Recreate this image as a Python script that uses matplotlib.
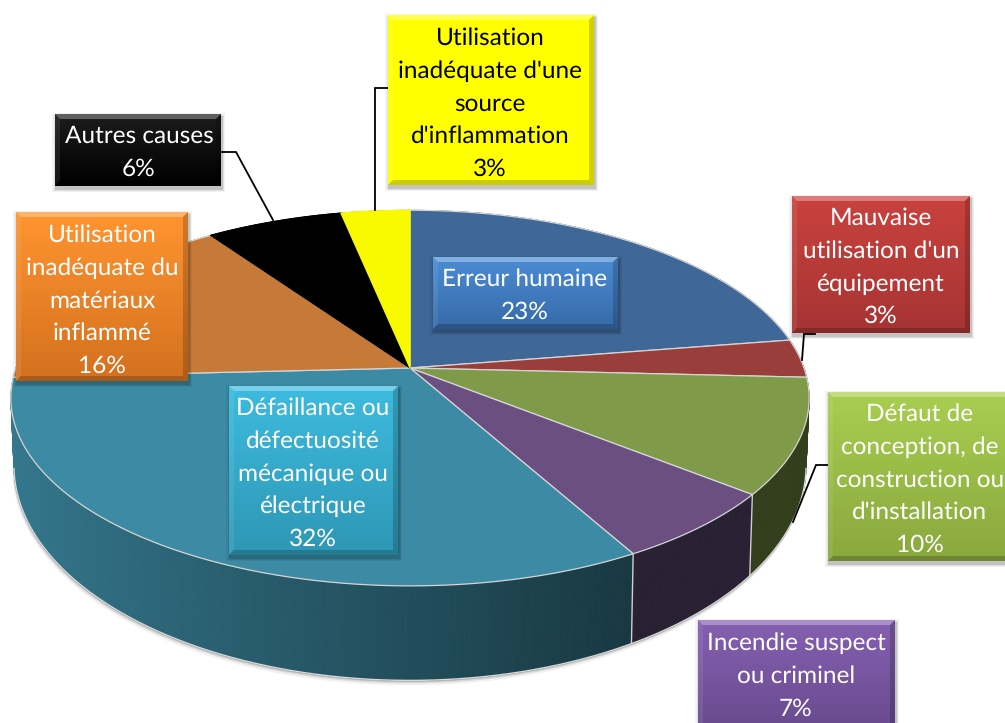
import numpy as np
import matplotlib
matplotlib.use("Agg")
from matplotlib import pyplot as plt
from matplotlib.colors import to_rgb
from matplotlib.patches import Polygon, Rectangle

plt.rcParams['font.family'] = ['Lato', 'DejaVu Sans']
plt.rcParams['text.hinting'] = 'no_hinting'

# labels as printed on the chart
percents = [23, 3, 10, 7, 32, 16, 6, 3]
label_lines = [
    ["Erreur humaine"],
    ["Mauvaise", "utilisation d'un", "équipement"],
    ["Défaut de", "conception, de", "construction ou", "d'installation"],
    ["Incendie suspect", "ou criminel"],
    ["Défaillance ou", "défectuosité", "mécanique ou", "électrique"],
    ["Utilisation", "inadéquate du", "matériaux", "inflammé"],
    ["Autres causes"],
    ["Utilisation", "inadéquate d'une", "source", "d'inflammation"],
]
# slice sizes measured on the picture (the printed labels are rounded)
shares = [22.5, 3.3, 9.9, 6.2, 32.3, 16.1, 6.45, 3.25]

top_colors = ["#3F6797", "#9A3E3C", "#7F9A48", "#6A4F80", "#3C8AA3", "#C77A38", "#000000", "#F9F900"]
# box: left, top, right, bottom, centre x, first baseline, gradient top, gradient bottom, text colour
boxes = [
    (433, 257, 618, 329, 525, 286, "#4A8CD4", "#376AA8", "white"),
    (792, 196, 970, 333, 881, 225, "#C9423E", "#A63433", "white"),
    (828, 392, 1010, 561, 920, 421, "#A8CE50", "#89A83E", "white"),
    (698, 620, 895, 730, 796, 650, "#8560B0", "#694A8F", "white"),
    (229, 386, 398, 555, 313, 415, "#3DBBDF", "#2E97B5", "white"),
    (16, 212, 188, 381, 102, 242, "#FF9430", "#D4711F", "white"),
    (55, 114, 221, 186, 139, 143, "#1C1C1C", "#000000", "white"),
    (388, 15, 594, 185, 490, 45, "#FFFF00", "#FFFF00", "black"),
]
leaders = [
    ([815, 804, 802], [334, 334, 360]),
    ([828, 816, 793], [465, 465, 522]),
    ([222, 236, 273], [152, 152, 220]),
    ([388, 375, 375], [88, 88, 210]),
]
LINE_PITCH = 32.7


def project(theta, cy, a, b, p=0.16):
    """Perspective view of a point on the pie rim, theta clockwise from the back"""
    x, y = np.sin(theta), -np.cos(theta)
    s = 1.0 / (1.0 - p * y)
    return 410 + a * x * s, cy + b * y * s


def top_rim(theta):
    return project(theta, 368, 394, 183)


def bottom_rim(theta):
    return project(theta, 431, 391, 209.5)


def shade(color, factor):
    return tuple(np.clip(np.array(to_rgb(color)) * factor, 0, 1))


def mix(c1, c2, t):
    return tuple(np.array(to_rgb(c1)) * (1 - t) + np.array(to_rgb(c2)) * t)


def draw_box(ax, left, top, right, bottom, c_top, c_bottom):
    # Soft drop shadow
    for grow, alpha in [(4, 0.05), (2.5, 0.08), (1.5, 0.12)]:
        ax.add_patch(Rectangle((left - grow + 1, top - grow + 3), right - left + 2 * grow - 1,
                               bottom - top + 2 * grow - 1, color="black", alpha=alpha, lw=0, zorder=7))
    grad = np.linspace(0, 1, 64)[:, None, None] * (np.array(to_rgb(c_bottom)) - np.array(to_rgb(c_top)))
    ax.imshow(grad + np.array(to_rgb(c_top)), extent=(left, right, bottom, top), aspect="auto", zorder=8)
    # Bevel: lit top and left, dark right and bottom
    bevel = 5
    inner = (left + bevel, top + bevel, right - bevel, bottom - bevel)
    ax.add_patch(Polygon([(left, top), (right, top), (inner[2], inner[1]), (inner[0], inner[1])],
                         color=mix(c_top, "white", 0.3), lw=0, zorder=9))
    ax.add_patch(Polygon([(left, top), (left, bottom), (inner[0], inner[3]), (inner[0], inner[1])],
                         color="white", alpha=0.08, lw=0, zorder=9))
    ax.add_patch(Polygon([(right, top), (right, bottom), (inner[2], inner[3]), (inner[2], inner[1])],
                         color="black", alpha=0.18, lw=0, zorder=9))
    ax.add_patch(Polygon([(left, bottom), (right, bottom), (inner[2], inner[3]), (inner[0], inner[3])],
                         color=shade(c_bottom, 0.8), lw=0, zorder=9))


fig = plt.figure(figsize=(10.05, 7.23), dpi=100)
ax = fig.add_axes([0, 0, 1, 1])

edges = 2 * np.pi * np.cumsum([0] + shares) / sum(shares)

# Shadow under the pie
full = np.linspace(0, 2 * np.pi, 361)
bx, by = bottom_rim(full)
for off, alpha in [(5, 0.05), (3, 0.10), (1.5, 0.18)]:
    ax.add_patch(Polygon(np.column_stack([bx - off * 0.3, by + off]), color="black", alpha=alpha, lw=0, zorder=1))

# Side wall, painted back to front
quads = []
for i, color in enumerate(top_colors):
    thetas = np.linspace(edges[i], edges[i + 1], max(int(shares[i] * 6), 4))
    for t0, t1 in zip(thetas[:-1], thetas[1:]):
        quads.append((t0, t1, color))
quads.sort(key=lambda q: -np.cos((q[0] + q[1]) / 2))
for t0, t1, color in quads:
    factor = np.clip(0.56 - 0.32 * np.sin((t0 + t1) / 2), 0.4, 0.9)
    x0, y0 = top_rim(t0)
    x1, y1 = top_rim(t1)
    x2, y2 = bottom_rim(t1)
    x3, y3 = bottom_rim(t0)
    ax.add_patch(Polygon([(x0, y0), (x1, y1), (x2, y2), (x3, y3)], facecolor=shade(color, factor),
                         edgecolor=shade(color, factor), lw=0.6, zorder=2))

# Rim highlight along the foot of the wall, and edges between the slices
front = np.linspace(np.radians(100), np.radians(260), 200)
bx, by = bottom_rim(front)
ax.plot(bx, by, color="#D8D8D8", lw=1, zorder=3)
for edge in edges:
    if -np.cos(edge) > 0.16:
        x0, y0 = top_rim(edge)
        x1, y1 = bottom_rim(edge)
        ax.plot([x0, x1], [y0, y1], color="#D0D0D0", lw=1, zorder=3)

# Top face
for i, color in enumerate(top_colors):
    thetas = np.linspace(edges[i], edges[i + 1], 120)
    xs, ys = top_rim(thetas)
    pts = np.column_stack([np.r_[410, xs], np.r_[368, ys]])
    line = "#D5D5D5" if i < 6 else color
    ax.add_patch(Polygon(pts, facecolor=color, edgecolor=line, lw=0.9, joinstyle="round", zorder=4))

for xs, ys in leaders:
    ax.plot(xs, ys, color="black", lw=1.3, solid_joinstyle="miter", zorder=6)

for box, lines, pct in zip(boxes, label_lines, percents):
    left, top, right, bottom, cx, base, c_top, c_bottom, text_color = box
    draw_box(ax, left, top, right, bottom, c_top, c_bottom)
    for row, line in enumerate(lines + ["%d%%" % pct]):
        ax.text(cx, base + row * LINE_PITCH, line, ha="center", va="baseline",
                fontsize=17.6, color=text_color, zorder=10)

ax.set_xlim(0, 1005)
ax.set_ylim(723, 0)
ax.axis("off")
fig.savefig("out.png", dpi=100)
